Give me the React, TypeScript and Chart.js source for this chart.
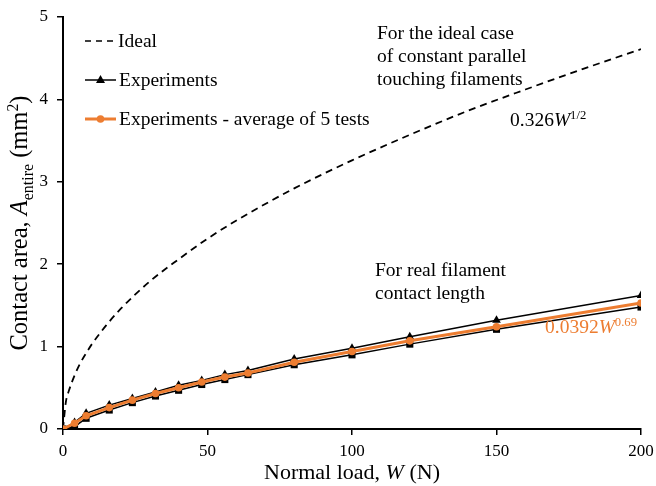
import React, { useEffect, useRef } from "react";
import { Chart, registerables } from "chart.js";

Chart.register(...registerables);

const loads = [0, 4, 8, 16, 24, 32, 40, 48, 56, 64, 80, 100, 120, 150, 200];
const expTriangle = [0, 0.08, 0.19, 0.29, 0.37, 0.45, 0.53, 0.59, 0.66, 0.71, 0.85, 0.98, 1.12, 1.32, 1.62];
const expSquare = [0, 0.03, 0.13, 0.23, 0.32, 0.4, 0.47, 0.54, 0.6, 0.66, 0.78, 0.9, 1.03, 1.21, 1.48];
const expAverage = [0, 0.07, 0.16, 0.26, 0.35, 0.43, 0.5, 0.57, 0.63, 0.68, 0.81, 0.94, 1.07, 1.24, 1.53];
const idealLoads = [0, 1, 2, 4, 6, 8, 10, 15, 20, 30, 40, 50, 60, 80, 100, 120, 140, 160, 180, 200];
const idealArea = [0, 0.33, 0.46, 0.65, 0.8, 0.92, 1.03, 1.26, 1.46, 1.79, 2.06, 2.31, 2.53, 2.92, 3.26, 3.57, 3.86, 4.12, 4.37, 4.61];
const xTicks = [0, 50, 100, 150, 200];
const yTicks = [0, 1, 2, 3, 4, 5];

const ORANGE = "#ED7D31";
const FONT = '"Liberation Serif", "Times New Roman", serif';

type Seg = { t: string; it?: boolean; sub?: boolean; sup?: boolean };

function richWidth(ctx: CanvasRenderingContext2D, segs: Seg[], size: number) {
  let w = 0;
  for (const s of segs) {
    const fs = s.sub || s.sup ? size * 0.65 : size;
    ctx.font = `${s.it ? "italic " : ""}${fs}px ${FONT}`;
    w += ctx.measureText(s.t).width;
  }
  return w;
}

function drawRich(ctx: CanvasRenderingContext2D, segs: Seg[], x: number, y: number, size: number, color: string, align: "left" | "center" = "left") {
  ctx.save();
  ctx.fillStyle = color;
  ctx.textBaseline = "alphabetic";
  ctx.textAlign = "left";
  let cx = align === "center" ? x - richWidth(ctx, segs, size) / 2 : x;
  for (const s of segs) {
    const fs = s.sub || s.sup ? size * 0.65 : size;
    ctx.font = `${s.it ? "italic " : ""}${fs}px ${FONT}`;
    const dy = s.sub ? size * 0.25 : s.sup ? -size * 0.38 : 0;
    ctx.fillText(s.t, cx, y + dy);
    cx += ctx.measureText(s.t).width;
  }
  ctx.restore();
}

const overlayPlugin = {
  id: "overlay",
  afterDraw(chart: any) {
    const ctx: CanvasRenderingContext2D = chart.ctx;
    // Legend
    ctx.save();
    ctx.strokeStyle = "#000";
    ctx.lineWidth = 1.6;
    ctx.setLineDash([6, 5]);
    ctx.beginPath();
    ctx.moveTo(85, 41);
    ctx.lineTo(117, 41);
    ctx.stroke();
    ctx.setLineDash([]);
    ctx.lineWidth = 1.5;
    ctx.beginPath();
    ctx.moveTo(85, 80);
    ctx.lineTo(116, 80);
    ctx.stroke();
    ctx.fillStyle = "#000";
    ctx.beginPath();
    ctx.moveTo(100.5, 75);
    ctx.lineTo(105, 83);
    ctx.lineTo(96, 83);
    ctx.closePath();
    ctx.fill();
    ctx.strokeStyle = ORANGE;
    ctx.lineWidth = 3;
    ctx.beginPath();
    ctx.moveTo(85, 119);
    ctx.lineTo(116, 119);
    ctx.stroke();
    ctx.fillStyle = ORANGE;
    ctx.beginPath();
    ctx.arc(100.5, 119, 3.8, 0, Math.PI * 2);
    ctx.fill();
    ctx.restore();

    drawRich(ctx, [{ t: "Ideal" }], 118, 47, 19.5, "#000");
    drawRich(ctx, [{ t: "Experiments" }], 119, 86, 19.5, "#000");
    drawRich(ctx, [{ t: "Experiments - average of 5 tests" }], 119, 125, 19.5, "#000");

    // Annotations
    drawRich(ctx, [{ t: "For the ideal case" }], 377, 39, 19.5, "#000");
    drawRich(ctx, [{ t: "of constant parallel" }], 377, 62, 19.5, "#000");
    drawRich(ctx, [{ t: "touching filaments" }], 377, 85, 19.5, "#000");
    drawRich(ctx, [{ t: "0.326" }, { t: "W", it: true }, { t: "1/2", sup: true }], 510, 126, 19.5, "#000");
    drawRich(ctx, [{ t: "For real filament" }], 375, 276, 19.5, "#000");
    drawRich(ctx, [{ t: "contact length" }], 375, 299, 19.5, "#000");
    drawRich(ctx, [{ t: "0.0392" }, { t: "W", it: true }, { t: "0.69", sup: true }], 545, 333, 19.5, ORANGE);

    // Axis titles
    const area = chart.chartArea;
    drawRich(ctx, [{ t: "Normal load, " }, { t: "W", it: true }, { t: " (N)" }], (area.left + area.right) / 2, 479, 22, "#000", "center");
    ctx.save();
    ctx.translate(27, (area.top + area.bottom) / 2);
    ctx.rotate(-Math.PI / 2);
    drawRich(
      ctx,
      [{ t: "Contact area, " }, { t: "A", it: true }, { t: "entire", sub: true }, { t: " (mm" }, { t: "2", sup: true }, { t: ")" }],
      0,
      0,
      24.5,
      "#000",
      "center"
    );
    ctx.restore();
  },
};

export default function App() {
  const ref = useRef<HTMLCanvasElement | null>(null);
  useEffect(() => {
    if (!ref.current) return;
    const tri = loads.map((x, i) => ({ x, y: expTriangle[i] }));
    const sq = loads.map((x, i) => ({ x, y: expSquare[i] }));
    const avg = loads.map((x, i) => ({ x, y: expAverage[i] }));
    const ideal = idealLoads.map((x, i) => ({ x, y: idealArea[i] }));
    const chart = new Chart(ref.current, {
      type: "line",
      data: {
        datasets: [
          {
            label: "Experiments - average of 5 tests",
            data: avg,
            borderColor: ORANGE,
            backgroundColor: ORANGE,
            borderWidth: 3,
            pointStyle: "circle",
            pointRadius: 3.8,
            pointBorderWidth: 0,
          },
          {
            label: "Experiments",
            data: tri,
            borderColor: "#000",
            backgroundColor: "#000",
            borderWidth: 1.5,
            pointStyle: "triangle",
            pointRadius: 5,
            pointBorderWidth: 0,
          },
          {
            label: "Experiments (2)",
            data: sq,
            borderColor: "#000",
            backgroundColor: "#000",
            borderWidth: 1.5,
            pointStyle: "rect",
            pointRadius: 5,
            pointBorderWidth: 0,
          },
          {
            label: "Ideal",
            data: ideal,
            borderColor: "#000",
            borderWidth: 1.8,
            borderDash: [7, 5],
            pointRadius: 0,
            cubicInterpolationMode: "monotone",
          },
        ],
      },
      options: {
        animation: false,
        responsive: false,
        maintainAspectRatio: false,
        layout: { padding: { left: 0, right: 15, top: 17, bottom: 0 } },
        plugins: { legend: { display: false }, tooltip: { enabled: false } },
        scales: {
          x: {
            type: "linear",
            min: 0,
            max: 200,
            afterBuildTicks: (s: any) => {
              s.ticks = xTicks.map((v) => ({ value: v }));
            },
            afterFit: (s: any) => {
              s.height = 57;
              s.paddingLeft = 0;
              s.paddingRight = 0;
            },
            border: { color: "#000", width: 2 },
            grid: { drawOnChartArea: false, color: "#000", tickLength: 6, lineWidth: 1.5 },
            ticks: { color: "#000", padding: 6, font: { family: FONT, size: 17 }, maxRotation: 0 },
          },
          y: {
            type: "linear",
            min: 0,
            max: 5,
            afterBuildTicks: (s: any) => {
              s.ticks = yTicks.map((v) => ({ value: v }));
            },
            afterFit: (s: any) => {
              s.width = 63;
              s.paddingTop = 0;
              s.paddingBottom = 0;
            },
            border: { color: "#000", width: 2 },
            grid: { drawOnChartArea: false, color: "#000", tickLength: 6, lineWidth: 1.5 },
            ticks: { color: "#000", padding: 9, font: { family: FONT, size: 17 } },
          },
        },
      },
      plugins: [overlayPlugin],
    } as any);
    return () => chart.destroy();
  }, []);
  return (
    <div style={{ position: "fixed", left: 0, top: 0, width: 656, height: 486, background: "#fff" }}>
      <canvas ref={ref} width={656} height={486} style={{ width: 656, height: 486 }} />
    </div>
  );
}
